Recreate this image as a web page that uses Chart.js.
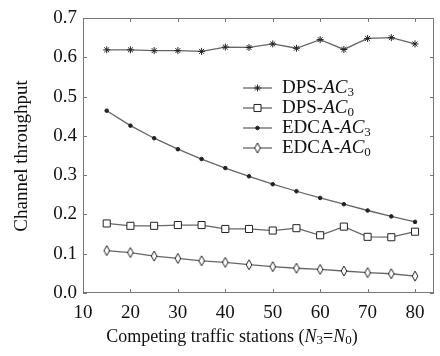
<!DOCTYPE html>
<html>
<head>
<meta charset="utf-8">
<script src="https://cdn.jsdelivr.net/npm/chart.js@4"></script>
<style>
  body { margin: 0; background: #fff; }
  #wrap { width: 440px; height: 356px; }
</style>
</head>
<body>
<div id="wrap"><canvas id="myChart" width="440" height="356"></canvas></div>
<script>
// stations on the x axis
var stations = [15, 20, 25, 30, 35, 40, 45, 50, 55, 60, 65, 70, 75, 80];

// channel throughput
var dpsAC3  = [0.619, 0.619, 0.617, 0.617, 0.615, 0.626, 0.625, 0.634, 0.623, 0.645, 0.620, 0.648, 0.650, 0.634];
var dpsAC0  = [0.177, 0.171, 0.171, 0.173, 0.173, 0.163, 0.163, 0.159, 0.165, 0.147, 0.169, 0.143, 0.142, 0.156];
var edcaAC3 = [0.464, 0.426, 0.394, 0.366, 0.341, 0.318, 0.297, 0.277, 0.259, 0.242, 0.226, 0.210, 0.195, 0.181];
var edcaAC0 = [0.108, 0.103, 0.094, 0.088, 0.082, 0.078, 0.072, 0.067, 0.063, 0.060, 0.056, 0.052, 0.049, 0.043];

var xTicks = [10, 20, 30, 40, 50, 60, 70, 80];
var yTicks = [0.0, 0.1, 0.2, 0.3, 0.4, 0.5, 0.6, 0.7];

// legend text: [plain part, italic part, subscript]
var legendNames = [['DPS-', 'AC', '3'], ['DPS-', 'AC', '0'], ['EDCA-', 'AC', '3'], ['EDCA-', 'AC', '0']];

var serif = "'Liberation Serif', 'Times New Roman', serif";
var lineCol = '#666';
var markCol = '#222';

// small tall open diamond used for EDCA-AC0
function diamond() {
    var c = document.createElement('canvas');
    c.width = 8; c.height = 12;
    var g = c.getContext('2d');
    g.beginPath();
    g.moveTo(4, 1); g.lineTo(6.8, 6); g.lineTo(4, 11); g.lineTo(1.2, 6); g.closePath();
    g.fillStyle = '#fff'; g.fill();
    g.strokeStyle = markCol; g.lineWidth = 1; g.stroke();
    return c;
}
var diamondImg = diamond();

function pts(arr) {
    return stations.map(function (s, i) { return { x: s, y: arr[i] }; });
}

function mkSet(label, arr, style, radius, fill) {
    return {
        label: label,
        data: pts(arr),
        borderColor: lineCol,
        borderWidth: 1.3,
        pointStyle: style,
        pointRadius: radius,
        pointBorderColor: markCol,
        pointBackgroundColor: fill,
        pointBorderWidth: 1,
        tension: 0
    };
}

const data = {
    datasets: [
        mkSet('DPS-AC3', dpsAC3, 'star', 3.5, markCol),
        mkSet('DPS-AC0', dpsAC0, 'rect', 5, '#fff'),
        mkSet('EDCA-AC3', edcaAC3, 'circle', 1.8, markCol),
        mkSet('EDCA-AC0', edcaAC0, diamondImg, 5, '#fff')
    ]
};

// box, inward ticks, legend and axis titles
const decor = {
    id: 'decor',
    afterDatasetsDraw: function (chart) {
        var ctx = chart.ctx;
        var a = chart.chartArea;
        var xs = chart.scales.x, ys = chart.scales.y;
        ctx.save();
        ctx.strokeStyle = '#777';
        ctx.lineWidth = 1;
        ctx.strokeRect(a.left + 0.5, a.top + 0.5, a.right - a.left - 1, a.bottom - a.top - 1);
        ctx.beginPath();
        xTicks.forEach(function (v) {
            var px = Math.round(xs.getPixelForValue(v)) + 0.5;
            ctx.moveTo(px, a.bottom); ctx.lineTo(px, a.bottom - 4);
            ctx.moveTo(px, a.top); ctx.lineTo(px, a.top + 4);
        });
        yTicks.forEach(function (v) {
            var py = Math.round(ys.getPixelForValue(v)) + 0.5;
            ctx.moveTo(a.left, py); ctx.lineTo(a.left + 4, py);
            ctx.moveTo(a.right, py); ctx.lineTo(a.right - 4, py);
        });
        ctx.stroke();

        // legend
        var lx0 = 243, lx1 = 272, tx = 282;
        var rows = [88, 108, 128, 148];
        ctx.textBaseline = 'middle';
        legendNames.forEach(function (nm, i) {
            var y = rows[i];
            var ds = chart.data.datasets[i];
            ctx.strokeStyle = lineCol;
            ctx.lineWidth = 1.3;
            ctx.beginPath(); ctx.moveTo(lx0, y); ctx.lineTo(lx1, y); ctx.stroke();
            ctx.strokeStyle = markCol;
            ctx.fillStyle = ds.pointBackgroundColor;
            ctx.lineWidth = 1;
            Chart.helpers.drawPoint(ctx, { pointStyle: ds.pointStyle, radius: ds.pointRadius, borderWidth: 1, rotation: 0 }, (lx0 + lx1) / 2, y);
            ctx.fillStyle = '#111';
            var x = tx;
            ctx.font = '19px ' + serif;
            ctx.fillText(nm[0], x, y);
            x += ctx.measureText(nm[0]).width;
            ctx.font = 'italic 19px ' + serif;
            ctx.fillText(nm[1], x, y);
            x += ctx.measureText(nm[1]).width;
            ctx.font = '13px ' + serif;
            ctx.fillText(nm[2], x, y + 5);
        });

        // x title with subscripts
        var parts = [['Competing traffic stations (', '18px', 0, ''], ['N', '18px', 0, 'italic '], ['3', '13px', 4, ''],
                     ['=', '18px', 0, ''], ['N', '18px', 0, 'italic '], ['0', '13px', 4, ''], [')', '18px', 0, '']];
        var w = 0;
        parts.forEach(function (p) { ctx.font = p[3] + p[1] + ' ' + serif; w += ctx.measureText(p[0]).width; });
        var x = 232 - w / 2;
        ctx.fillStyle = '#111';
        parts.forEach(function (p) {
            ctx.font = p[3] + p[1] + ' ' + serif;
            ctx.fillText(p[0], x, 337 + p[2]);
            x += ctx.measureText(p[0]).width;
        });

        // y title
        ctx.save();
        ctx.translate(22, 156);
        ctx.rotate(-Math.PI / 2);
        ctx.textAlign = 'center';
        ctx.font = '19px ' + serif;
        ctx.fillText('Channel throughput', 0, 0);
        ctx.restore();
        ctx.restore();
    }
};

const config = {
    type: 'line',
    data: data,
    options: {
        responsive: false,
        animation: false,
        layout: { padding: { top: 18, right: 3, left: 0, bottom: 0 } },
        plugins: {
            legend: { display: false },
            tooltip: { enabled: false }
        },
        scales: {
            x: {
                type: 'linear',
                min: 10,
                max: 84,
                afterBuildTicks: function (s) { s.ticks = xTicks.map(function (v) { return { value: v }; }); },
                afterFit: function (s) { s.height = 63; },
                grid: { display: false, drawTicks: false },
                border: { display: false },
                ticks: { color: '#111', padding: 9, maxRotation: 0, font: { family: serif, size: 19 } }
            },
            y: {
                min: 0,
                max: 0.7,
                afterBuildTicks: function (s) { s.ticks = yTicks.map(function (v) { return { value: v }; }); },
                afterFit: function (s) { s.width = 83; },
                grid: { display: false, drawTicks: false },
                border: { display: false },
                ticks: {
                    color: '#111', padding: 6, font: { family: serif, size: 19 },
                    callback: function (v) { return v.toFixed(1); }
                }
            }
        }
    },
    plugins: [decor]
};

const myChart = new Chart(document.getElementById('myChart'), config);
</script>
</body>
</html>
